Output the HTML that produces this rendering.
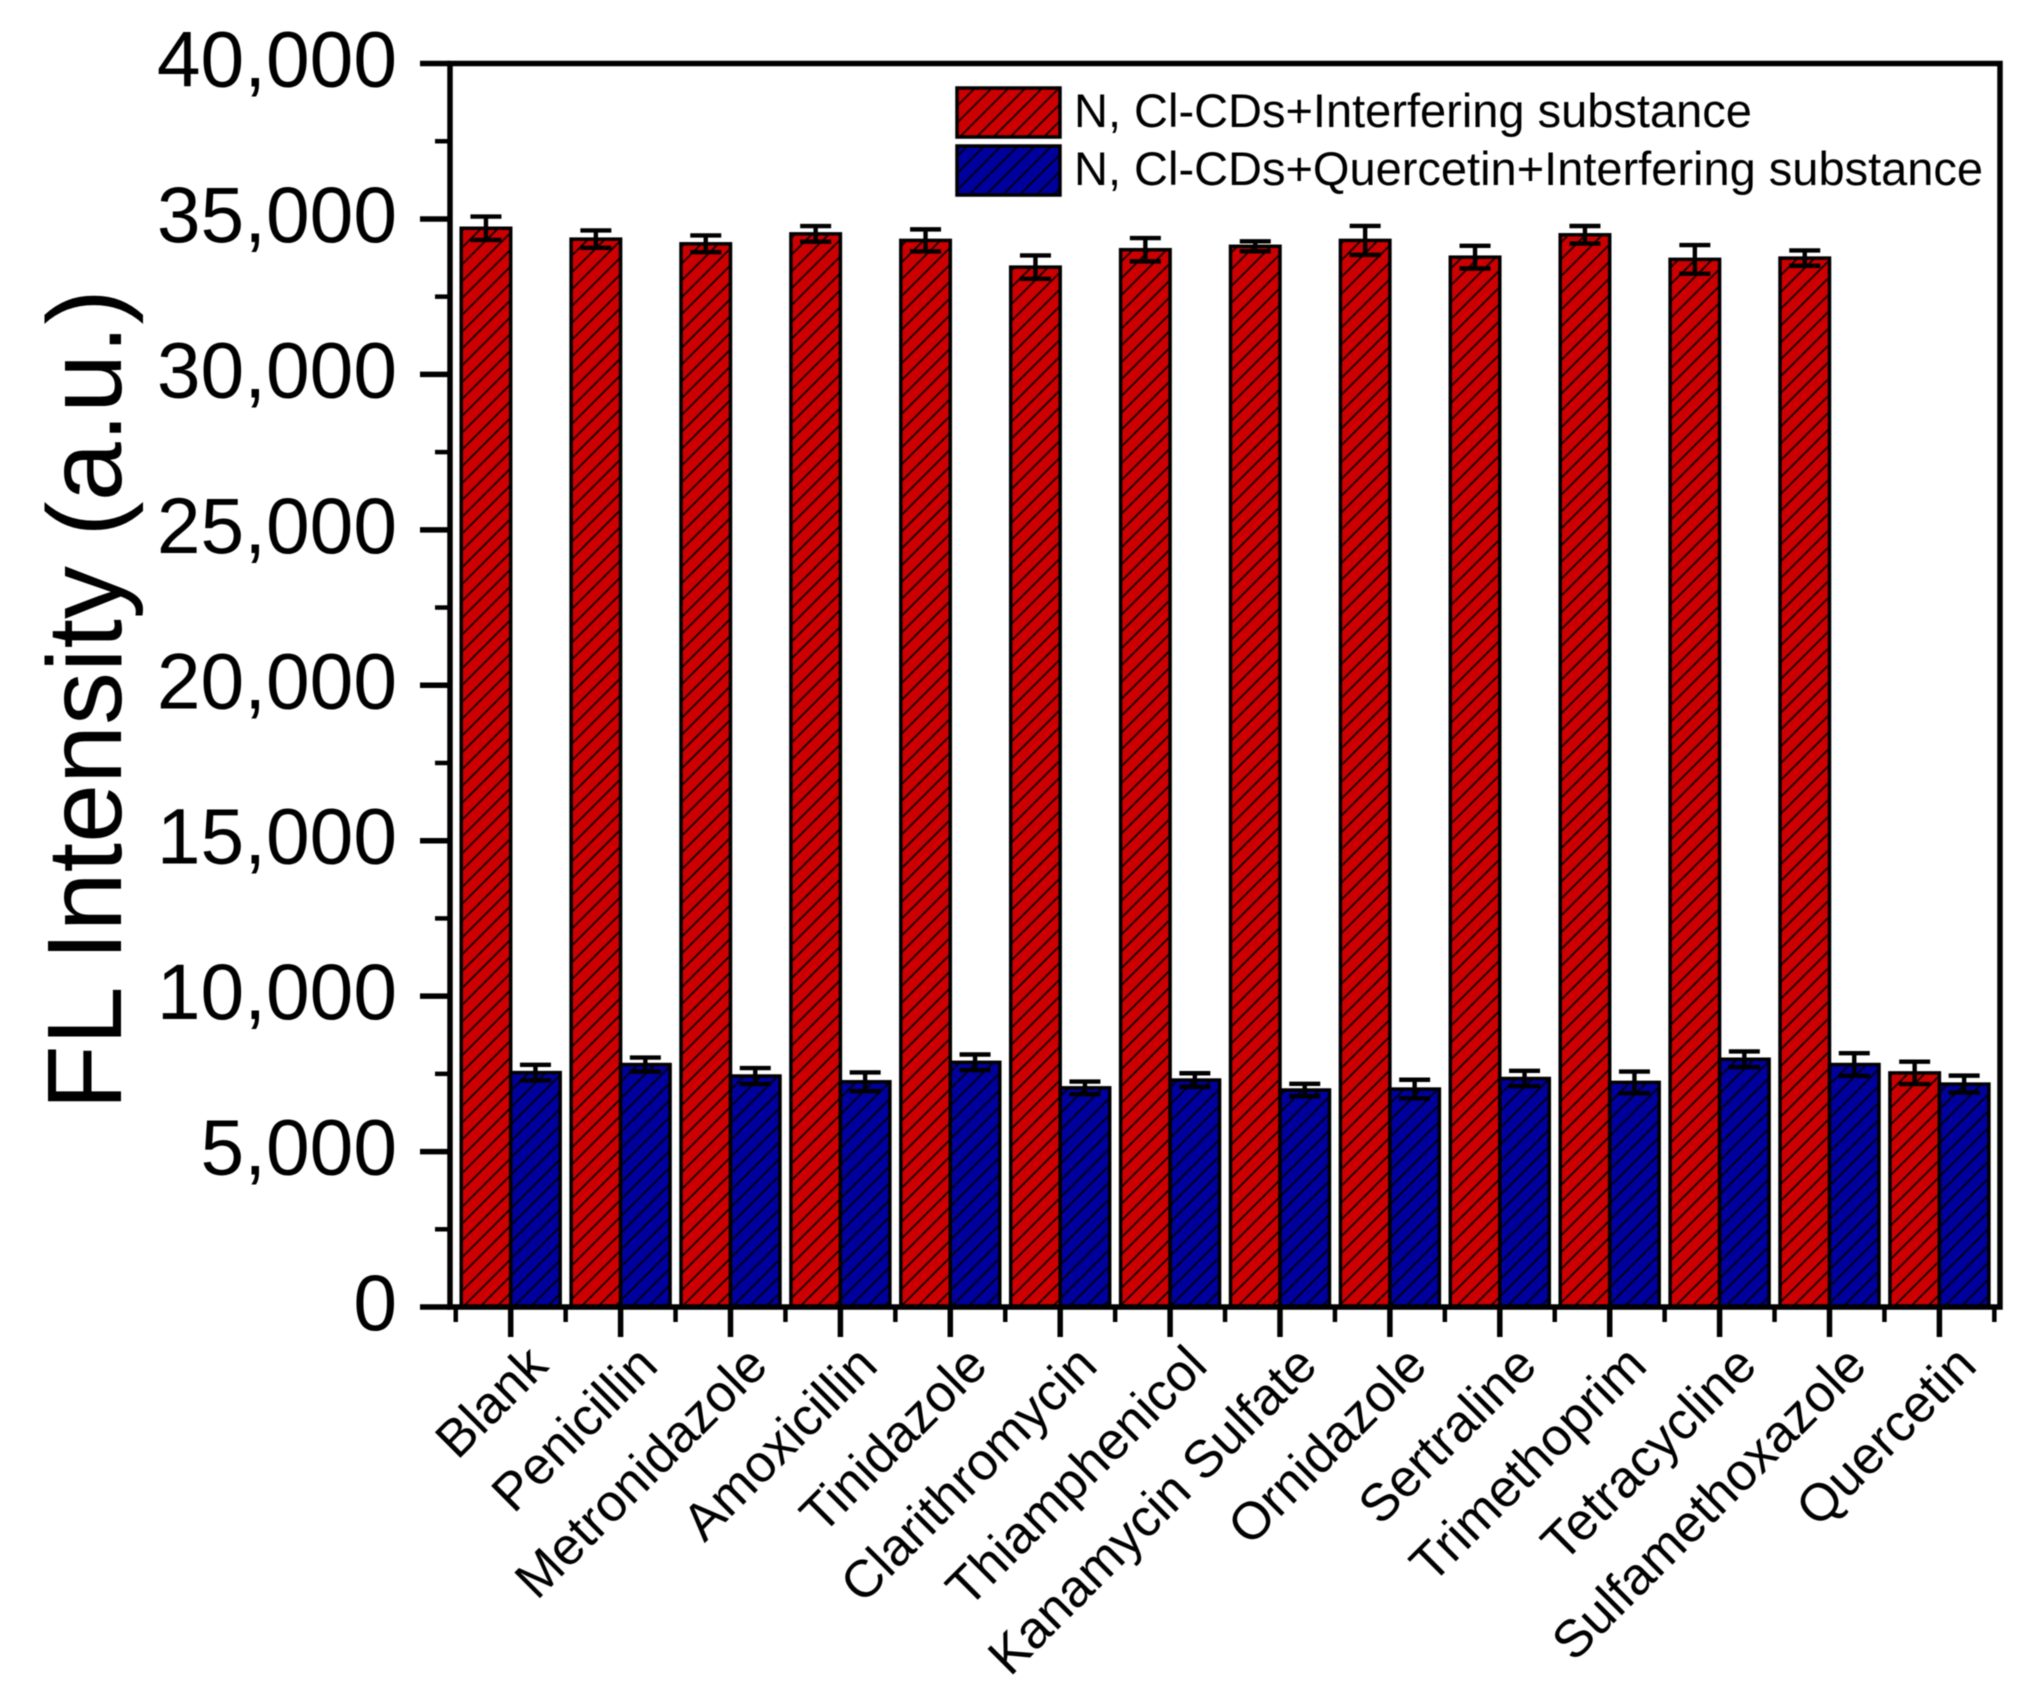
<!DOCTYPE html>
<html lang="en">
<head>
<meta charset="utf-8">
<title>FL Intensity interference chart</title>
<style>
html,body{margin:0;padding:0;background:#fff;}
svg{display:block;filter:blur(0.5px);}
text{font-family:"Liberation Sans",Arial,sans-serif;fill:#000;}
</style>
</head>
<body>
<svg id="chart" xmlns="http://www.w3.org/2000/svg" width="2030" height="1708" viewBox="0 0 2030 1708">
  <defs>
    <pattern id="hatch-red" patternUnits="userSpaceOnUse" width="11.9" height="11.9" patternTransform="rotate(45)">
      <rect width="11.9" height="11.9" fill="#cc0000"></rect>
      <line x1="2" y1="0" x2="2" y2="11.9" stroke="#000" stroke-width="1.6"></line>
    </pattern>
    <pattern id="hatch-blue" patternUnits="userSpaceOnUse" width="11.9" height="11.9" patternTransform="rotate(45)">
      <rect width="11.9" height="11.9" fill="#00009c"></rect>
      <line x1="2" y1="0" x2="2" y2="11.9" stroke="#000" stroke-width="1.6"></line>
    </pattern>
  </defs>
  <rect width="2030" height="1708" fill="#fff"></rect>
  <g id="bars"></g>
  <g id="errors"></g>
  <rect x="450" y="63.5" width="1550" height="1243.5" fill="none" stroke="#000" stroke-width="5.5"></rect>
  <g id="y-axis"></g>
  <g id="x-axis"></g>
  <text transform="translate(121,1110) rotate(-90)" font-size="106">FL Intensity (a.u.)</text>
  <g>
    <g>
      <rect x="957" y="88" width="103" height="49" fill="url(#hatch-red)" stroke="#000" stroke-width="3.5"></rect>
      <text x="1074" y="127" font-size="47">N, Cl-CDs+Interfering substance</text>
    </g>
    <g>
      <rect x="957" y="146" width="103" height="49" fill="url(#hatch-blue)" stroke="#000" stroke-width="3.5"></rect>
      <text x="1074" y="185" font-size="47">N, Cl-CDs+Quercetin+Interfering substance</text>
    </g>
  </g>
</svg>
<script>
const categories = ["Blank","Penicillin","Metronidazole","Amoxicillin","Tinidazole","Clarithromycin","Thiamphenicol","Kanamycin Sulfate","Ornidazole","Sertraline","Trimethoprim","Tetracycline","Sulfamethoxazole","Quercetin"];
const redValues = [34700,34350,34200,34520,34310,33450,34010,34120,34310,33770,34490,33700,33740,7530];
const redErrors = [375,280,268,252,354,375,375,160,466,364,283,460,246,360];
const blueValues = [7540,7800,7430,7245,7870,7050,7300,6980,7010,7350,7225,7970,7800,7170];
const blueErrors = [252,225,257,300,252,203,219,199,300,247,348,252,364,273];
const yMajorTicks = [0,5000,10000,15000,20000,25000,30000,35000,40000];
const yTickLabels = ["0","5,000","10,000","15,000","20,000","25,000","30,000","35,000","40,000"];
const yMinorTicks = [2500,7500,12500,17500,22500,27500,32500,37500];

const NS = "http://www.w3.org/2000/svg";
function yScale(v){ return 1307 - (v / 40000) * 1243.5; }
function xScale(i){ return 510.7 + i * 109.9; }
const barWidth = 49.5;

function make(tag, attrs, parent){
  const el = document.createElementNS(NS, tag);
  for (const k in attrs) el.setAttribute(k, attrs[k]);
  parent.appendChild(el);
  return el;
}

const barsLayer = document.getElementById("bars");
const errorsLayer = document.getElementById("errors");
const yAxisLayer = document.getElementById("y-axis");
const xAxisLayer = document.getElementById("x-axis");

function drawBar(i, value, side, fill, series){
  const top = yScale(value);
  const el = make("rect", {x: side < 0 ? xScale(i) - barWidth : xScale(i), y: top, width: barWidth, height: yScale(0) - top, fill: fill, stroke: "#000", "stroke-width": 3.5}, barsLayer);
  
  
}

function drawError(i, value, err, side, series){
  const cx = xScale(i) + side * barWidth / 2;
  const g = make("g", {stroke: "#000", "stroke-width": 4.4, fill: "none"}, errorsLayer);
  
  
  make("line", {x1: cx, x2: cx, y1: yScale(value + err), y2: yScale(value - err)}, g);
  make("line", {x1: cx - 15.5, x2: cx + 15.5, y1: yScale(value + err), y2: yScale(value + err)}, g);
  make("line", {x1: cx - 15.5, x2: cx + 15.5, y1: yScale(value - err), y2: yScale(value - err)}, g);
}

categories.forEach(function(name, i){
  drawBar(i, redValues[i], -1, "url(#hatch-red)", "red");
  drawBar(i, blueValues[i], 1, "url(#hatch-blue)", "blue");
  drawError(i, redValues[i], redErrors[i], -1, "red");
  drawError(i, blueValues[i], blueErrors[i], 1, "blue");
});

yMajorTicks.forEach(function(v, i){
  const tick = make("line", {x1: 420, x2: 450, y1: yScale(v), y2: yScale(v), stroke: "#000", "stroke-width": 5.5}, yAxisLayer);
  
  
  const label = make("text", {x: 397, y: yScale(v) + 23, "text-anchor": "end", "font-size": 78.5}, yAxisLayer);
  label.textContent = yTickLabels[i];
  
  
});

yMinorTicks.forEach(function(v){
  const tick = make("line", {x1: 435, x2: 450, y1: yScale(v), y2: yScale(v), stroke: "#000", "stroke-width": 4.5}, yAxisLayer);
  
  
});

categories.forEach(function(name, i){
  const tick = make("line", {x1: xScale(i), x2: xScale(i), y1: 1307, y2: 1337, stroke: "#000", "stroke-width": 5.5}, xAxisLayer);
  
  
  const label = make("text", {transform: "translate(" + (xScale(i) + 39.5) + ",1368) rotate(-45)", "text-anchor": "end", "font-size": 52.5}, xAxisLayer);
  label.textContent = name;
  
  
});

for (let i = 0; i <= categories.length; i++){
  const tick = make("line", {x1: xScale(i - 0.5), x2: xScale(i - 0.5), y1: 1307, y2: 1322, stroke: "#000", "stroke-width": 4.5}, xAxisLayer);
  
  
}
</script>
</body>
</html>
